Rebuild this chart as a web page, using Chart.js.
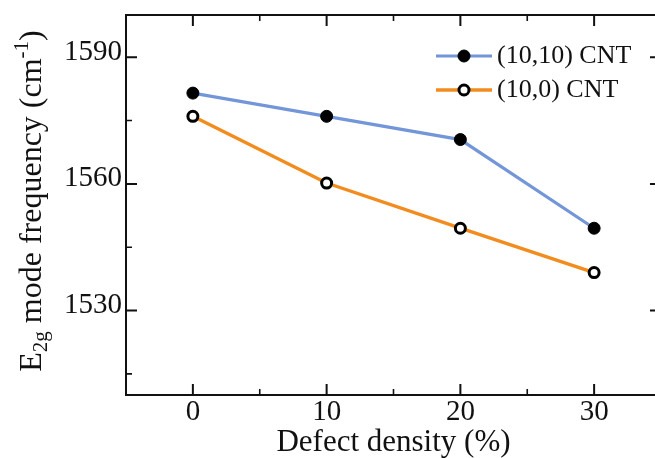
<!DOCTYPE html>
<html><head><meta charset="utf-8">
<script src="https://cdn.jsdelivr.net/npm/chart.js@4.4.0/dist/chart.umd.min.js"></script>
<style>
html,body{margin:0;padding:0;background:#fff;overflow:hidden;width:655px;height:458px}
#wrap{position:absolute;left:0;top:0;width:670px;height:458px}
</style>
</head><body><div id="wrap"><canvas id="c" width="670" height="458"></canvas></div>
<script>
// ---- data ----
const defectDensity = [0, 10, 20, 30];
const cnt1010 = [1581.5, 1576.0, 1570.5, 1549.5];
const cnt100 = [1576.0, 1560.2, 1549.5, 1539.0];
const seriesLabels = ['(10,10) CNT', '(10,0) CNT'];
const xMajorTicks = [0, 10, 20, 30];
const xMinorTicks = [5, 15, 25];
const yMajorTicks = [1530, 1560, 1590];
const yMinorTicks = [1515, 1545, 1575];
const xTitle = 'Defect density (%)';
const yTitleParts = [['E', 'n'], ['2g', 'sub'], [' mode frequency (cm', 'n'], ['-1', 'sup'], [')', 'n']];

const FONT = "'Liberation Serif', 'Times New Roman', serif";
const INK = '#111111';

const framePlugin = {
  id: 'frame',
  afterDraw(chart) {
    const {ctx, chartArea: a, scales: {x, y}} = chart;
    ctx.save();
    ctx.strokeStyle = INK;
    ctx.lineWidth = 2;
    ctx.strokeRect(a.left, a.top, a.right - a.left, a.bottom - a.top);
    const major = 11, minor = 6;
    ctx.beginPath();
    xMajorTicks.forEach(v => { const p = x.getPixelForValue(v);
      ctx.moveTo(p, a.bottom); ctx.lineTo(p, a.bottom - major);
      ctx.moveTo(p, a.top); ctx.lineTo(p, a.top + major); });
    yMajorTicks.forEach(v => { const p = y.getPixelForValue(v);
      ctx.moveTo(a.left, p); ctx.lineTo(a.left + major, p);
      ctx.moveTo(a.right, p); ctx.lineTo(a.right - major, p); });
    ctx.stroke();
    ctx.lineWidth = 1.6;
    ctx.beginPath();
    xMinorTicks.forEach(v => { const p = x.getPixelForValue(v);
      ctx.moveTo(p, a.bottom); ctx.lineTo(p, a.bottom - minor);
      ctx.moveTo(p, a.top); ctx.lineTo(p, a.top + minor); });
    yMinorTicks.forEach(v => { const p = y.getPixelForValue(v);
      ctx.moveTo(a.left, p); ctx.lineTo(a.left + minor, p);
      ctx.moveTo(a.right, p); ctx.lineTo(a.right - minor, p); });
    ctx.stroke();
    ctx.restore();
  }
};

const yTitlePlugin = {
  id: 'ytitle',
  afterDraw(chart) {
    const {ctx, chartArea: a} = chart;
    const base = 32, small = 21;
    ctx.save();
    ctx.fillStyle = INK;
    ctx.textBaseline = 'alphabetic';
    ctx.textAlign = 'left';
    let total = 0;
    yTitleParts.forEach(([t, k]) => { ctx.font = (k === 'n' ? base : small) + 'px ' + FONT; total += ctx.measureText(t).width; });
    ctx.translate(41, (a.top + a.bottom) / 2 - 4 + total / 2);
    ctx.rotate(-Math.PI / 2);
    let cx = 0;
    yTitleParts.forEach(([t, k]) => {
      ctx.font = (k === 'n' ? base : small) + 'px ' + FONT;
      const dy = k === 'sub' ? 6 : (k === 'sup' ? -13 : 0);
      ctx.fillText(t, cx, dy);
      cx += ctx.measureText(t).width;
    });
    ctx.restore();
  }
};

const legendPlugin = {
  id: 'insideLegend',
  afterDraw(chart) {
    const {ctx, chartArea: a} = chart;
    ctx.save();
    chart.data.datasets.forEach((ds, i) => {
      const yy = a.top + 41 + i * 34;
      const x0 = a.right - 225, x1 = a.right - 169, xm = (x0 + x1) / 2;
      ctx.strokeStyle = ds.borderColor;
      ctx.lineWidth = ds.borderWidth;
      ctx.beginPath(); ctx.moveTo(x0, yy); ctx.lineTo(x1, yy); ctx.stroke();
      ctx.beginPath();
      ctx.arc(xm, yy, ds.pointRadius, 0, Math.PI * 2);
      ctx.fillStyle = ds.pointBackgroundColor; ctx.fill();
      ctx.lineWidth = ds.pointBorderWidth; ctx.strokeStyle = ds.pointBorderColor; ctx.stroke();
      ctx.fillStyle = INK;
      ctx.font = '26px ' + FONT;
      ctx.textBaseline = 'middle';
      ctx.textAlign = 'left';
      ctx.fillText(ds.label, x1 + 5, yy);
    });
    ctx.restore();
  }
};

new Chart(document.getElementById('c'), {
  type: 'line',
  data: {
    datasets: [
      { label: seriesLabels[0], data: defectDensity.map((d, i) => ({x: d, y: cnt1010[i]})),
        borderColor: '#7396d8', borderWidth: 3.2, pointRadius: 6, pointBackgroundColor: '#000',
        pointBorderColor: '#000', pointBorderWidth: 1, tension: 0 },
      { label: seriesLabels[1], data: defectDensity.map((d, i) => ({x: d, y: cnt100[i]})),
        borderColor: '#f28c1e', borderWidth: 3.4, pointRadius: 5, pointBackgroundColor: '#fff',
        pointBorderColor: '#000', pointBorderWidth: 3, tension: 0 }
    ]
  },
  options: {
    responsive: false,
    animation: false,
    devicePixelRatio: 1,
    layout: { padding: { top: 15, right: 9, left: 0, bottom: 0 } },
    plugins: { legend: { display: false }, tooltip: { enabled: false } },
    scales: {
      x: {
        type: 'linear', min: -5, max: 35,
        grid: { display: false, drawTicks: false }, border: { display: false },
        afterBuildTicks: s => { s.ticks = xMajorTicks.map(v => ({value: v})); },
        afterFit: s => { s.height = 63; s.paddingLeft = 0; s.paddingRight = 0; },
        ticks: { font: { family: FONT, size: 29 }, color: INK, padding: 0, maxRotation: 0, callback: v => String(v) },
        title: { display: true, text: xTitle, font: { family: FONT, size: 31, lineHeight: 1 }, color: INK, padding: { top: 0, bottom: 0 } }
      },
      y: {
        type: 'linear', min: 1510, max: 1600,
        grid: { display: false, drawTicks: false }, border: { display: false },
        afterBuildTicks: s => { s.ticks = yMajorTicks.map(v => ({value: v})); },
        afterFit: s => { s.width = 126; s.paddingTop = 0; s.paddingBottom = 0; },
        ticks: { font: { family: FONT, size: 29 }, color: INK, padding: 4, labelOffset: -5, callback: v => String(v) }
      }
    }
  },
  plugins: [framePlugin, yTitlePlugin, legendPlugin]
});
</script>
</body></html>
